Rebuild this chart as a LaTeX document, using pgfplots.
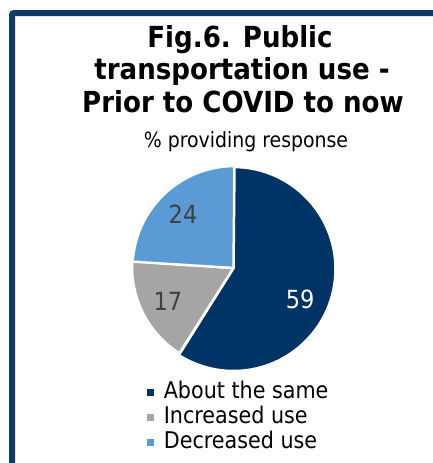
\documentclass[border=0pt]{standalone}
\usepackage{pgfplots}
\pgfplotsset{compat=1.18}
\usepackage{pgfplotstable}
\usepackage{fontspec}
\setmainfont{DejaVu Sans Condensed}
\definecolor{navy}{RGB}{0,51,102}
\definecolor{pgray}{RGB}{165,165,165}
\definecolor{pblue}{RGB}{91,155,213}
\definecolor{framec}{RGB}{14,58,108}
\definecolor{lab}{RGB}{64,64,64}
\pgfplotstableread{
value fillc textc dang
59 navy white -9
17 pgray lab 0
24 pblue lab 0
}\piedata
\begin{document}
\begin{tikzpicture}
\useasboundingbox (0,0) rectangle (433pt,-463pt);
\clip (0,0) rectangle (433pt,-463pt);
\fill[white] (0,0) rectangle (433pt,-463pt);
\draw[framec, line width=6pt, rounded corners=2pt] (12pt,-490pt) -- (12pt,-13pt) -- (460pt,-13pt);
\begin{scope}[font=\fontsize{29}{33}\selectfont\bfseries]
\node[anchor=base] at (240pt,-47pt) {Fig.6. Public};
\node[anchor=base] at (242pt,-79pt) {transportation use -};
\node[anchor=base] at (243pt,-112pt) {Prior to COVID to now};
\end{scope}
\node[anchor=base, font=\fontsize{21}{25}\selectfont] at (246pt,-147pt) {\% providing response};
\begin{axis}[x=101pt, y=101pt, hide axis,
  xmin=-1, xmax=1, ymin=-1, ymax=1,
  anchor=origin, at={(233.5pt,-268pt)}, clip=false,
  legend image code/.code={\fill[#1, draw=none] (0pt,-3.5pt) rectangle (7pt,3.5pt);\path[draw=none, fill=none] (0pt,0pt) -- (15pt,0pt);},
  legend style={draw=none, fill=none, inner sep=0pt, row sep=0pt,
    at={(rel axis cs:0.07,-0.055)}, anchor=north west,
    font=\fontsize{23}{26}\selectfont,
    nodes={text height=16pt, text depth=5pt, inner sep=2pt}},
  legend cell align=left]
\pgfplotstablegetrowsof{\piedata}
\pgfmathtruncatemacro\N{\pgfplotsretval-1}
\def\cum{0}
\pgfplotsforeachungrouped \i in {0,...,\N}{%
  \pgfplotstablegetelem{\i}{value}\of\piedata \let\v\pgfplotsretval
  \pgfplotstablegetelem{\i}{fillc}\of\piedata \let\fc\pgfplotsretval
  \pgfplotstablegetelem{\i}{textc}\of\piedata \let\tc\pgfplotsretval
  \pgfplotstablegetelem{\i}{dang}\of\piedata \let\da\pgfplotsretval
  \pgfmathsetmacro\a{90-3.6*\cum}%
  \pgfmathsetmacro\b{90-3.6*(\cum+\v)}%
  \pgfmathsetmacro\m{(\a+\b)/2+\da}%
  \pgfmathsetmacro\lx{0.73*cos(\m)}%
  \pgfmathsetmacro\ly{0.73*sin(\m)}%
  \pgfmathsetmacro\sx{cos(\a)}%
  \pgfmathsetmacro\sy{sin(\a)}%
  \pgfmathtruncatemacro\vi{\v}%
  \edef\temp{\noexpand\fill[\fc, draw=white, line width=2.5pt, line join=round]
    (axis cs:0,0) -- (axis cs:\sx,\sy) arc[start angle=\a, end angle=\b, radius=102pt] -- cycle;
    \noexpand\node[text=\tc, font=\noexpand\fontsize{25}{30}\noexpand\selectfont] at (axis cs:\lx,\ly) {\vi};}%
  \temp
  \pgfmathsetmacro\cum{\cum+\v}%
}
\addlegendimage{navy}\addlegendentry{About the same}
\addlegendimage{pgray}\addlegendentry{Increased use}
\addlegendimage{pblue}\addlegendentry{Decreased use}
\end{axis}
\end{tikzpicture}
\end{document}
